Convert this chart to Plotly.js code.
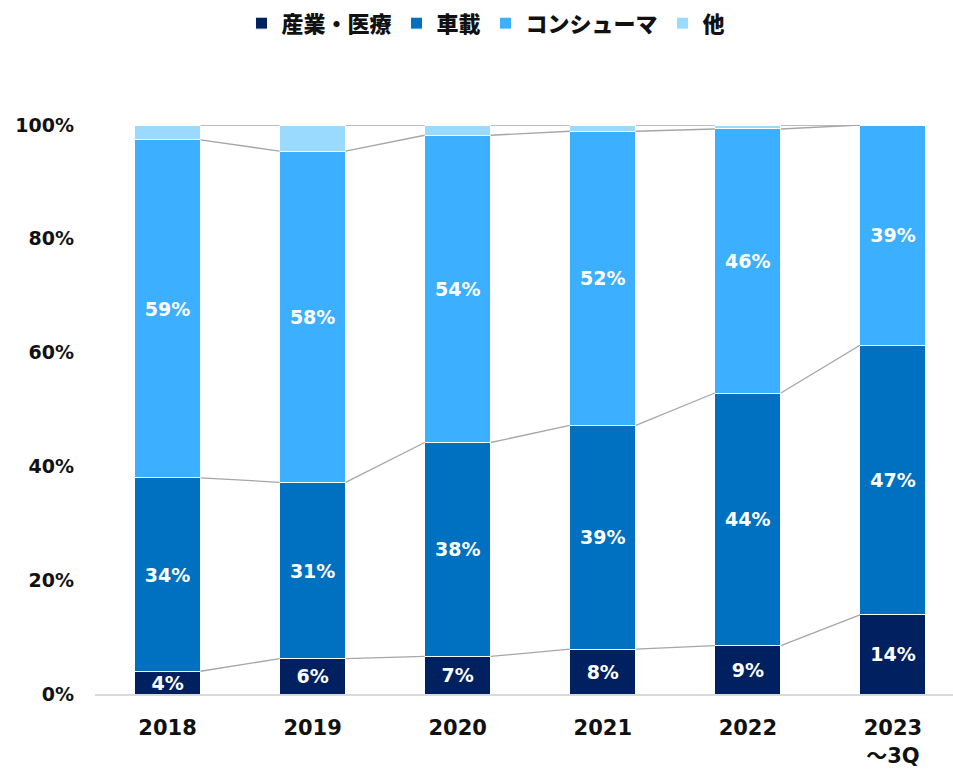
<!DOCTYPE html>
<html>
<head>
<meta charset="utf-8">
<script src="https://cdn.plot.ly/plotly-3.0.1.min.js"></script>
<style>html,body{margin:0;padding:0;background:#fff;}#chart{width:953px;height:778px;}</style>
</head>
<body>
<div id="chart"></div>
<script>
// ---- data ----
const categories = ["2018", "2019", "2020", "2021", "2022", "2023<br>～3Q"];
const seriesNames = ["産業・医療", "車載", "コンシューマ", "他"];
const industrial = [4.0, 6.2, 6.6, 7.9, 8.5, 13.9];
const automotive = [34.0, 31.0, 37.6, 39.3, 44.4, 47.4];
const consumer   = [59.4, 58.2, 54.0, 51.7, 46.4, 38.7];
const others     = [2.6, 4.6, 1.8, 1.1, 0.7, 0.0];
const yTickVals  = [0, 20, 40, 60, 80, 100];
const yTickText  = ["0%", "20%", "40%", "60%", "80%", "100%"];

// ---- styling ----
const colors = ["#002060", "#0070C0", "#3DAFFF", "#9BDAFF"];
const FONT = "'DejaVu Sans', 'Noto Sans CJK JP', sans-serif";
const CJK = "'Noto Sans CJK JP', 'DejaVu Sans', sans-serif";
const barWidth = 0.455;

const xs = categories.map((_, i) => i);
const series = [industrial, automotive, consumer, others];

const traces = series.map((vals, k) => ({
  type: "bar",
  name: seriesNames[k],
  x: xs,
  y: vals,
  width: barWidth,
  marker: {color: colors[k], line: {color: "#ffffff", width: 1}},
  text: k < 3 ? vals.map(v => Math.round(v) + "%") : vals.map(() => ""),
  textposition: "inside",
  insidetextanchor: "middle",
  textangle: 0,
  constraintext: "none",
  textfont: {family: FONT, size: 19, color: "#ffffff", weight: "bold"},
  hoverinfo: "skip"
}));

// connector lines between bars at each cumulative boundary
const cx = [], cy = [];
for (let k = 0; k < series.length; k++) {
  for (let i = 0; i < xs.length - 1; i++) {
    let a = 0, b = 0;
    for (let j = 0; j <= k; j++) { a += series[j][i]; b += series[j][i + 1]; }
    cx.push(xs[i] + barWidth / 2, xs[i + 1] - barWidth / 2, null);
    cy.push(a, b, null);
  }
}
traces.push({
  type: "scatter", mode: "lines", x: cx, y: cy,
  line: {color: "#a6a6a6", width: 1.3},
  showlegend: false, hoverinfo: "skip", cliponaxis: false
});

const layout = {
  width: 953, height: 778,
  margin: {l: 95, r: 0, t: 125, b: 84},
  paper_bgcolor: "#ffffff", plot_bgcolor: "#ffffff",
  barmode: "stack",
  showlegend: true,
  legend: {
    orientation: "h", xref: "container", yref: "container",
    x: 0.51, xanchor: "center", y: 0.997, yanchor: "top",
    traceorder: "normal",
    font: {family: CJK, size: 22, color: "#111111", weight: 900},
    itemwidth: 30
  },
  xaxis: {
    range: [-0.5, 5.414],
    tickvals: xs, ticktext: categories,
    tickfont: {family: FONT, size: 21, color: "#111111", weight: "bold"},
    showgrid: false, zeroline: false,
    showline: true, linecolor: "#d9d9d9", linewidth: 2,
    ticks: "", ticklabelstandoff: 14
  },
  yaxis: {
    range: [0, 100],
    tickvals: yTickVals, ticktext: yTickText,
    tickfont: {family: FONT, size: 19, color: "#111111", weight: "bold"},
    showgrid: false, zeroline: false, showline: false,
    ticks: "", ticklabelstandoff: 20
  }
};

Plotly.newPlot("chart", traces, layout, {displayModeBar: false, staticPlot: true});
</script>
</body>
</html>
